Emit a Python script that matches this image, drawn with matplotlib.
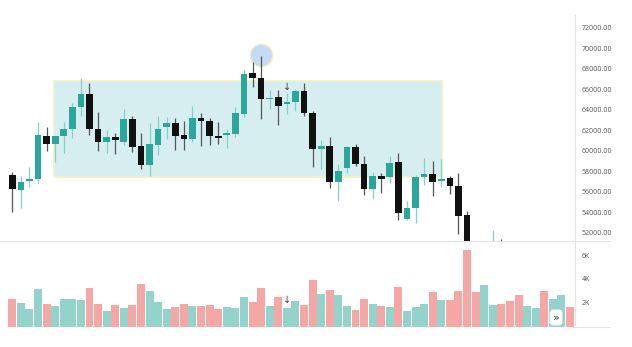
import numpy as np
import matplotlib.pyplot as plt
from matplotlib.patches import Rectangle
from matplotlib.lines import Line2D

plt.rcParams['font.family'] = ['Open Sans', 'DejaVu Sans']

# daily OHLC + volume
opens = [57600, 56170, 57010, 57270, 61460, 60650, 61460, 62150, 64230, 65530,
         62090, 60850, 61310, 60880, 63120, 60430, 58600, 60590, 62340, 62670,
         61500, 61140, 63220, 62930, 61460, 61530, 61660, 63580, 67550, 67090,
         65010, 65240, 64590, 64750, 65850, 63680, 60210, 60460, 56950, 58310,
         60390, 58700, 56230, 57530, 57400, 58930, 53310, 54440, 57460, 57730,
         57010, 57310, 56590, 53760, 50800, 49600, 50500, 51000, 50300, 49500,
         48900, 49500, 50100, 49300, 49900, 50400]
highs = [57950, 57530, 58380, 62830, 62310, 61450, 62800, 64680, 67060, 66580,
         63800, 62020, 61730, 64040, 63390, 61760, 62670, 63390, 63320, 63220,
         62900, 64390, 63710, 63220, 62800, 62100, 64290, 67870, 68620, 69270,
         65920, 65920, 65600, 66020, 66630, 63840, 61040, 61310, 58670, 60460,
         60620, 59480, 57950, 57800, 59510, 59750, 55060, 57660, 59260, 59020,
         59220, 57530, 57800, 54150, 51000, 50900, 52260, 51390, 50700, 49800,
         49900, 50400, 50300, 50200, 50800, 50700]
lows = [54050, 54380, 56430, 56820, 59940, 58900, 59800, 61270, 63390, 61560,
        60000, 59800, 59680, 60560, 59900, 58210, 57530, 59580, 61110, 60070,
        60070, 60820, 60490, 60590, 60680, 60310, 61370, 63320, 66240, 63090,
        64040, 62510, 63580, 63870, 63410, 58440, 58190, 56330, 55120, 57800,
        58510, 55680, 55260, 55840, 56880, 53240, 53240, 52980, 56650, 55580,
        56490, 55780, 51870, 50300, 49100, 49200, 50100, 49800, 49100, 48500,
        48600, 49200, 48900, 49000, 49600, 49500]
closes = [56230, 56950, 57270, 61500, 60650, 61400, 62090, 64230, 65530, 62090,
          60850, 61340, 61070, 63120, 60390, 58600, 60650, 62120, 62700, 61460,
          61140, 63220, 62930, 61460, 61270, 61680, 63680, 67480, 67090, 65010,
          65140, 64360, 64750, 65850, 63680, 60210, 60460, 56950, 58050, 60390,
          58670, 56230, 57530, 57210, 58830, 53890, 54440, 57460, 57730, 56920,
          57210, 56590, 53630, 50800, 49600, 50500, 51000, 50300, 49500, 48900,
          49500, 50100, 49300, 49900, 50400, 49800]
volumes = [2285, 1950, 1445, 3150, 1890, 1750, 2335, 2335, 2200, 3235,
           1915, 1330, 1830, 1555, 1805, 3570, 2955, 2085, 1445, 1610,
           1915, 1750, 1750, 1805, 1495, 1640, 1580, 2450, 2060, 3235,
           1695, 2480, 1580, 2115, 1830, 3905, 2705, 3090, 2645, 1695,
           1385, 2335, 1915, 1695, 1610, 3345, 1330, 1610, 1915, 2870,
           2225, 2200, 3010, 6425, 2925, 3460, 1830, 1890, 2115, 2620,
           1720, 1580, 3010, 2310, 2620, 1665]

price_ticks = list(range(52000, 72001, 2000))
vol_ticks = [2000, 4000, 6000]
vol_labels = ['2K', '4K', '6K']

o = np.array(opens); h = np.array(highs); l = np.array(lows); c = np.array(closes)
idx = np.arange(len(o))
up = c >= o

UP, DOWN = '#2aa79b', '#111111'
UP_WICK, DOWN_WICK = '#86cfc7', '#555555'
VOL_UP, VOL_DOWN = '#93d3cc', '#f5a7a6'

W, H = 632, 347
fig = plt.figure(figsize=(W / 100, H / 100), dpi=100)

def px_axes(x0, y0, x1, y1):
    return fig.add_axes([x0 / W, 1 - y1 / H, (x1 - x0) / W, (y1 - y0) / H])

ax = px_axes(0, 15, 575, 241)
axv = px_axes(0, 241, 575, 326.5)

for a in (ax, axv):
    a.set_xlim(-1.43, 65.58)
    for s in a.spines.values():
        s.set_visible(False)
    a.set_xticks([])
    a.yaxis.tick_right()
    a.tick_params(axis='y', length=0, pad=5, labelsize=5, labelcolor='#555555')

# price pane
ax.set_ylim(51190, 73240)
ax.add_patch(Rectangle((4.9, 57405), 45.15, 9425, facecolor='#d7eef1',
                       edgecolor='#eef3c6', lw=1.2, zorder=0))
ax.plot(29, 69300, 'o', ms=16, mfc='#c4dbf5', mec='#efeec2', mew=1.0, zorder=1)
ax.vlines(idx, l, h, colors=np.where(up, UP_WICK, DOWN_WICK), lw=0.9, zorder=2)
body_lo = np.minimum(o, c)
body_h = np.maximum(np.abs(c - o), 180)
ax.bar(idx, body_h, bottom=body_lo, width=0.78,
       color=np.where(up, UP, DOWN), lw=0, zorder=3)
ax.text(32, 66250, '↓', ha='center', va='center', fontsize=7,
        color='#444444', family='DejaVu Sans', zorder=4)
ax.set_yticks(price_ticks)
ax.set_yticklabels([f'{v:.2f}' for v in price_ticks])

# volume pane
axv.set_ylim(0, 7180)
axv.bar(idx, volumes, width=0.93, color=np.where(up, VOL_UP, VOL_DOWN), lw=0)
axv.text(32, 2250, '↓', ha='center', va='center', fontsize=7,
         color='#444444', family='DejaVu Sans', zorder=4)
axv.set_yticks(vol_ticks)
axv.set_yticklabels(vol_labels)

# pane separators
fig.add_artist(Line2D([0, 610 / W], [1 - 241 / H] * 2, color='#e4e4e4', lw=0.8))
fig.add_artist(Line2D([575 / W] * 2, [1 - 15 / H, 1 - 327 / H], color='#e4e4e4', lw=0.8))
fig.add_artist(Line2D([573 / W, 610 / W], [1 - 327 / H] * 2, color='#e4e4e4', lw=0.8))

# scroll-to-latest button
fig.text(556 / W, 1 - 317.5 / H, '»', ha='center', va='center', fontsize=8,
         color='#333333', family='DejaVu Sans',
         bbox=dict(boxstyle='round,pad=0.25,rounding_size=0.3', fc='white',
                   ec='#e0e0e0', lw=0.6))

fig.savefig('out.png', dpi=100)
